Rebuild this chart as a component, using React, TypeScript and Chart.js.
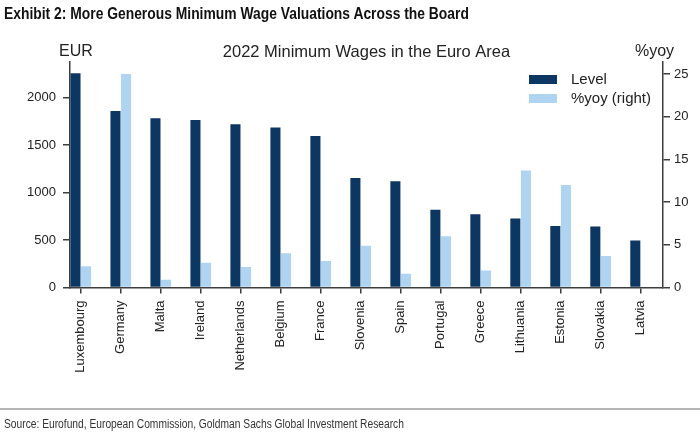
import { Chart, registerables } from "chart.js";
import { useEffect, useRef } from "react";

Chart.register(...registerables);

// Data
const countries = [
  "Luxembourg", "Germany", "Malta", "Ireland", "Netherlands", "Belgium", "France",
  "Slovenia", "Spain", "Portugal", "Greece", "Lithuania", "Estonia", "Slovakia", "Latvia",
];
const levelEur = [2257, 1860, 1782, 1765, 1719, 1684, 1596, 1154, 1119, 818, 772, 726, 649, 642, 495];
const yoyPct = [2.5, 25.0, 0.9, 2.9, 2.4, 4.0, 3.1, 4.9, 1.6, 6.0, 2.0, 13.7, 12.0, 3.7, null];
const leftTicks = [0, 500, 1000, 1500, 2000];
const rightTicks = [0, 5, 10, 15, 20, 25];

const HEADER = "Exhibit 2: More Generous Minimum Wage Valuations Across the Board";
const CHART_TITLE = "2022 Minimum Wages in the Euro Area";
const SOURCE = "Source: Eurofund, European Commission, Goldman Sachs Global Investment Research";

const DARK = "#0c3762";
const LIGHT = "#aed4f1";
const AXIS = "#3d3d3d";
const TEXT = "#222222";
const FONT = '"Liberation Sans", Arial, sans-serif';

// Chart title, unit labels and the in-plot legend
const overlayText = {
  id: "overlayText",
  afterDraw(chart: Chart) {
    const { ctx, chartArea } = chart;
    ctx.save();
    ctx.fillStyle = TEXT;
    ctx.font = `16.5px ${FONT}`;
    ctx.textAlign = "center";
    ctx.textBaseline = "alphabetic";
    ctx.fillText(CHART_TITLE, (chartArea.left + chartArea.right) / 2, 56.5);
    ctx.font = `16px ${FONT}`;
    ctx.fillText("EUR", chartArea.left + 6, 55.5);
    ctx.fillText("%yoy", chartArea.right - 8.5, 55.5);

    ctx.font = `15px ${FONT}`;
    ctx.textAlign = "left";
    ctx.textBaseline = "middle";
    chart.data.datasets.forEach((ds, i) => {
      const y = 75 + i * 19;
      ctx.fillStyle = ds.backgroundColor as string;
      ctx.fillRect(529, y, 28, 9);
      ctx.fillStyle = TEXT;
      ctx.fillText(ds.label ?? "", 571, y + 5);
    });
    ctx.restore();
  },
};

const ChartCanvas = () => {
  const canvasRef = useRef<HTMLCanvasElement | null>(null);

  useEffect(() => {
    if (!canvasRef.current) return;
    const chart = new Chart(canvasRef.current, {
      type: "bar",
      data: {
        datasets: [
          {
            label: "Level",
            data: levelEur.map((v, i) => ({ x: i, y: v })),
            backgroundColor: DARK,
            yAxisID: "y",
          },
          {
            label: "%yoy (right)",
            data: yoyPct.map((v, i) => ({ x: i, y: v })),
            backgroundColor: LIGHT,
            yAxisID: "y1",
          },
        ],
      },
      options: {
        animation: false,
        responsive: true,
        maintainAspectRatio: false,
        categoryPercentage: 0.53,
        barPercentage: 0.95,
        layout: { padding: { top: 62, left: 0, right: 0, bottom: 0 } },
        plugins: {
          legend: { display: false },
          title: { display: false },
          tooltip: { enabled: false },
        },
        scales: {
          x: {
            type: "linear",
            offset: false,
            min: -0.27,
            max: 14.56,
            grid: { offset: false, drawOnChartArea: false, color: AXIS, tickLength: 6, lineWidth: 1.5 },
            border: { color: AXIS, width: 1.5 },
            ticks: {
              stepSize: 1,
              includeBounds: false,
              autoSkip: false,
              minRotation: 90,
              maxRotation: 90,
              padding: 7,
              color: TEXT,
              font: { family: FONT, size: 13 },
              callback: (v) => countries[Number(v)] ?? "",
            },
            afterFit: (scale) => {
              scale.height = 435 - 287.5;
            },
          },
          y: {
            position: "left",
            min: 0,
            max: 2375,
            grid: { drawOnChartArea: false, color: AXIS, tickLength: 7, lineWidth: 1.5 },
            border: { color: AXIS, width: 1.5 },
            afterBuildTicks: (scale) => {
              scale.ticks = leftTicks.map((value) => ({ value }));
            },
            ticks: {
              padding: 7,
              color: TEXT,
              font: { family: FONT, size: 13 },
              callback: (v) => String(v),
            },
            afterFit: (scale) => {
              scale.width = 70;
            },
          },
          y1: {
            position: "right",
            min: 0,
            max: 26.4,
            grid: { drawOnChartArea: false, color: AXIS, tickLength: 7, lineWidth: 1.5 },
            border: { color: AXIS, width: 1.5 },
            afterBuildTicks: (scale) => {
              scale.ticks = rightTicks.map((value) => ({ value }));
            },
            ticks: {
              padding: 4,
              color: TEXT,
              font: { family: FONT, size: 13 },
              callback: (v) => String(v),
            },
            afterFit: (scale) => {
              scale.width = 37;
            },
          },
        },
      },
      plugins: [overlayText],
    });

    return () => {
      chart.destroy();
    };
  }, []);

  return <canvas ref={canvasRef} />;
};

const condensed = {
  transform: "scaleX(0.84)",
  transformOrigin: "left top",
  whiteSpace: "nowrap" as const,
  position: "absolute" as const,
  left: 4,
};

export default function App() {
  return (
    <div
      style={{
        position: "absolute",
        left: 0,
        top: 0,
        width: 700,
        height: 435,
        background: "#fff",
        overflow: "hidden",
        fontFamily: FONT,
      }}
    >
      <div style={{ position: "absolute", left: 0, top: 0, width: 700, height: 435 }}>
        <ChartCanvas />
      </div>
      <div style={{ ...condensed, top: 3, fontSize: 16.5, fontWeight: "bold", color: "#111", lineHeight: "20px" }}>
        {HEADER}
      </div>
      <div style={{ position: "absolute", left: 0, top: 408, width: 700, height: 2, background: "#b4b4b4" }} />
      <div style={{ ...condensed, top: 417, fontSize: 12.5, color: "#333", lineHeight: "15px", transform: "scaleX(0.82)" }}>
        {SOURCE}
      </div>
    </div>
  );
}
